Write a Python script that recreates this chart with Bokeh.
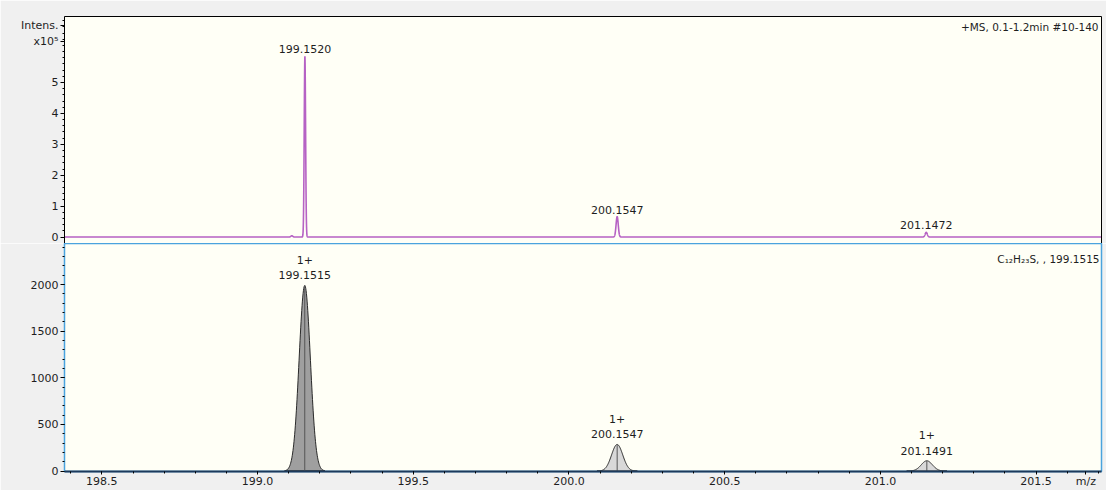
import numpy as np
from bokeh.plotting import figure
from bokeh.layouts import column
from bokeh.models import (ColumnDataSource, Label, FixedTicker, LinearAxis,
                          Range1d, CustomJSTickFormatter)
from bokeh.core.properties import value
from bokeh.embed import file_html
from bokeh.resources import INLINE

# ---------------- data ----------------
ms_mz = [199.1100, 199.1520, 200.1547, 201.1472]
ms_intensity = [4000, 585000, 66000, 15000]
ms_sigma = [0.0030, 0.0022, 0.0035, 0.0035]
ms_label = ["", "199.1520", "200.1547", "201.1472"]

sim_mz = [199.1515, 200.1547, 201.1491]
sim_intensity = [1990, 285, 110]
sim_sigma = [0.018, 0.018, 0.018]
sim_charge = ["1+", "1+", "1+"]
sim_label = ["199.1515", "200.1547", "201.1491"]

ms_ticks = [0, 100000, 200000, 300000, 400000, 500000]
sim_ticks = [0, 500, 1000, 1500, 2000]
mz_ticks = [198.5, 199.0, 199.5, 200.0, 200.5, 201.0, 201.5]
ms_title = "+MS, 0.1-1.2min #10-140"
sim_title = "C\u2081\u2082H\u2082\u2083S, , 199.1515"
y_title = "Intens."
y_scale = "x10\u2075"
x_title = "m/z"

# ---------------- styling / placement ----------------
X0, X1 = 198.38, 201.71
W = 1106
BG = "#f0f0f0"
FRAME = "#fffff6"
FONT = "DejaVu Sans"
TXT = "#1e1e1e"
PURPLE = "#b662c4"
LBLUE = "#4aa3de"
NAVY = "#1d3a5c"
Y_TITLE_POS = 685000      # where the "Intens." caption sits on the top axis
Y_SCALE_POS = 633000      # where the "x10^5" caption sits
X_TITLE_POS = 201.66      # where the "m/z" caption sits on the x axis


def style_axis(ax, line_color="black", tick_out=4, standoff=2):
    ax.axis_line_color = line_color
    ax.major_tick_line_color = "black"
    ax.minor_tick_line_color = "black"
    ax.major_tick_in = 0
    ax.major_tick_out = tick_out
    ax.minor_tick_in = 0
    ax.minor_tick_out = 2
    ax.major_label_text_font = FONT
    ax.major_label_text_font_size = "11px"
    ax.major_label_text_color = TXT
    ax.major_label_standoff = standoff


def bare_axis():
    ax = LinearAxis(ticker=FixedTicker(ticks=[]), axis_line_color="black",
                    major_tick_out=0, major_tick_in=0, minor_tick_out=0, minor_tick_in=0,
                    major_label_text_font_size="0px", major_label_standoff=0)
    return ax


# ---------------- top: measured spectrum ----------------
grid = np.linspace(X0, X1, 12000)
trace = np.zeros_like(grid)
for m, h, s in zip(ms_mz, ms_intensity, ms_sigma):
    trace += h * np.exp(-0.5 * ((grid - m) / s) ** 2)

p1 = figure(width=W, height=243, x_range=Range1d(X0, X1), y_range=Range1d(-21000, 713600),
            x_axis_location=None, output_backend="svg", toolbar_location=None,
            min_border_left=64, min_border_right=5, min_border_top=16, min_border_bottom=0,
            background_fill_color=FRAME, border_fill_color=BG, outline_line_color=None)
p1.grid.visible = False
p1.add_layout(bare_axis(), "above")
p1.add_layout(bare_axis(), "right")
p1.line(grid, trace, line_color=PURPLE, line_width=1.6)

src1 = ColumnDataSource(dict(x=ms_mz, y=ms_intensity, t=ms_label))
p1.text(x="x", y="y", text="t", source=src1, text_align="center", text_baseline="bottom",
        y_offset=-3, text_font=value(FONT), text_font_size="11px", text_color=TXT)

p1.yaxis[0].ticker = FixedTicker(ticks=ms_ticks + [Y_SCALE_POS, Y_TITLE_POS],
                                 minor_ticks=[i * 20000 for i in range(37)])
p1.yaxis[0].formatter = CustomJSTickFormatter(code="return (tick/1e5).toFixed(0);")
p1.yaxis[0].major_label_overrides = {Y_TITLE_POS: y_title, Y_SCALE_POS: y_scale}
style_axis(p1.yaxis[0])

p1.add_layout(Label(x=1034, y=217, x_units="screen", y_units="screen", text=ms_title,
                    text_align="right", text_baseline="middle", text_font=FONT,
                    text_font_size="10.5px", text_color=TXT))

# ---------------- bottom: simulated isotope pattern ----------------
p2 = figure(width=W, height=247, x_range=p1.x_range, y_range=Range1d(-5, 2440),
            output_backend="svg", toolbar_location=None,
            min_border_left=64, min_border_right=5, min_border_top=0, min_border_bottom=19,
            background_fill_color=FRAME, border_fill_color=BG,
            outline_line_color=LBLUE, outline_line_width=1.5)
p2.grid.visible = False

xs, ys = [], []
for m, h, s in zip(sim_mz, sim_intensity, sim_sigma):
    px = np.linspace(m - 3.6 * s, m + 3.6 * s, 121)
    py = h * np.exp(-0.5 * ((px - m) / s) ** 2)
    xs.append(list(px))
    ys.append(list(py))
fills = ["#9f9f9f", "#d8d8d8", "#d8d8d8"]
p2.patches(xs, ys, fill_color=fills, line_color="#2a2a2a", line_width=1)
p2.segment(x0=sim_mz, y0=[0] * len(sim_mz), x1=sim_mz, y1=sim_intensity,
           line_color="#555555", line_width=1)

src2 = ColumnDataSource(dict(x=sim_mz, y=sim_intensity,
                             t=[c + "\n" + l for c, l in zip(sim_charge, sim_label)]))
p2.text(x="x", y="y", text="t", source=src2, text_align="center", text_baseline="bottom",
        y_offset=-3, text_font=value(FONT), text_font_size="11px", text_color=TXT,
        text_line_height=1.2)

p2.xaxis[0].ticker = FixedTicker(ticks=mz_ticks + [X_TITLE_POS],
                                 minor_ticks=[198.4 + 0.1 * i for i in range(34)])
p2.xaxis[0].formatter = CustomJSTickFormatter(code="return tick.toFixed(1);")
p2.xaxis[0].major_label_overrides = {X_TITLE_POS: x_title}
p2.yaxis[0].ticker = FixedTicker(ticks=sim_ticks, minor_ticks=[i * 100 for i in range(25)])
style_axis(p2.xaxis[0], NAVY, tick_out=3, standoff=0)
p2.xaxis[0].axis_line_width = 2
style_axis(p2.yaxis[0], LBLUE)

p2.add_layout(Label(x=1035, y=213, x_units="screen", y_units="screen", text=sim_title,
                    text_align="right", text_baseline="middle", text_font=FONT,
                    text_font_size="10.5px", text_color=TXT))

layout = column(p1, p2, spacing=0)
open("out.html", "w").write(file_html(layout, INLINE))
